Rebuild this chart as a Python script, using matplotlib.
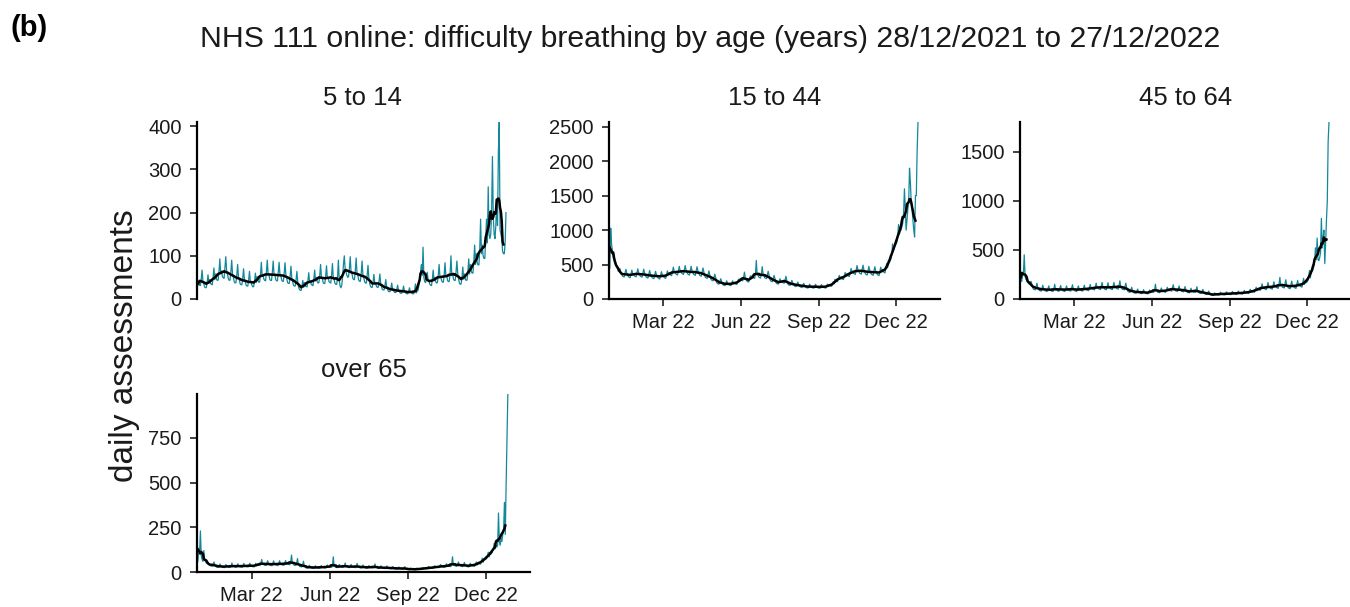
import matplotlib
matplotlib.use("Agg")
import matplotlib.pyplot as plt
import numpy as np
import pandas as pd

plt.rcParams['font.family'] = ['Liberation Sans', 'DejaVu Sans']

# daily assessments, one row per week starting Tue 28/12/2021, last value 27/12/2022
age_5_14 = [
    42, 34, 32, 31, 46, 67, 42,
    35, 28, 26, 27, 39, 56, 36,
    45, 36, 34, 33, 50, 72, 45,
    58, 46, 43, 44, 64, 93, 58,
    65, 52, 49, 48, 72, 98, 66,
    58, 47, 43, 44, 64, 90, 57,
    50, 40, 37, 38, 55, 80, 50,
    44, 35, 33, 33, 48, 70, 45,
    40, 32, 30, 30, 44, 64, 40,
    38, 31, 28, 29, 42, 60, 38,
    52, 42, 39, 39, 57, 85, 52,
    57, 46, 43, 42, 63, 90, 58,
    57, 45, 43, 43, 62, 88, 57,
    56, 45, 42, 42, 62, 85, 56,
    55, 44, 41, 41, 60, 84, 55,
    48, 38, 36, 36, 53, 76, 48,
    40, 32, 30, 30, 44, 64, 40,
    27, 22, 20, 20, 30, 43, 27,
    38, 30, 29, 28, 42, 61, 38,
    42, 34, 32, 31, 46, 67, 42,
    50, 40, 37, 38, 55, 80, 50,
    48, 38, 36, 36, 53, 77, 48,
    50, 40, 38, 37, 55, 82, 48,
    45, 36, 34, 34, 50, 90, 45,
    30, 26, 32, 50, 80, 100, 70,
    63, 55, 50, 52, 70, 98, 62,
    60, 48, 45, 45, 66, 95, 60,
    55, 44, 41, 41, 60, 88, 55,
    50, 40, 37, 37, 55, 78, 50,
    36, 29, 27, 27, 40, 57, 36,
    36, 29, 27, 27, 40, 58, 36,
    28, 22, 21, 21, 31, 45, 28,
    23, 18, 17, 17, 25, 37, 23,
    20, 16, 15, 15, 22, 32, 20,
    18, 14, 13, 14, 20, 30, 18,
    16, 13, 12, 12, 18, 26, 16,
    16, 13, 12, 12, 18, 35, 14,
    18, 20, 30, 45, 60, 80, 55,
    120, 50, 40, 38, 48, 62, 44,
    42, 34, 32, 31, 46, 67, 42,
    50, 40, 37, 38, 55, 80, 50,
    52, 42, 39, 39, 57, 84, 52,
    54, 43, 40, 41, 60, 100, 54,
    57, 46, 43, 43, 63, 88, 58,
    46, 37, 34, 35, 50, 74, 46,
    58, 46, 43, 44, 64, 93, 58,
    80, 64, 60, 60, 88, 125, 80,
    105, 84, 79, 79, 115, 185, 105,
    125, 100, 94, 94, 138, 185, 130,
    260, 150, 140, 150, 200, 330, 190,
    150, 140, 170, 230, 170, 340, 410,
    160, 150, 140, 110, 105, 105, 130,
    200,
]

age_15_44 = [
    450, 1030, 800, 700, 600, 560, 520,
    520, 480, 440, 400, 420, 440, 380,
    360, 330, 325, 320, 380, 430, 375,
    350, 322, 315, 308, 368, 420, 368,
    365, 336, 328, 321, 383, 438, 383,
    360, 331, 324, 317, 378, 432, 378,
    345, 317, 310, 304, 362, 414, 362,
    335, 308, 301, 295, 352, 402, 352,
    330, 304, 297, 290, 347, 396, 346,
    340, 313, 306, 299, 357, 408, 357,
    385, 354, 346, 339, 404, 462, 404,
    395, 363, 355, 348, 415, 474, 415,
    405, 373, 364, 356, 425, 486, 425,
    395, 363, 355, 348, 415, 474, 415,
    390, 359, 351, 343, 410, 468, 410,
    375, 345, 337, 330, 394, 450, 394,
    340, 313, 306, 299, 357, 408, 357,
    300, 276, 270, 264, 315, 360, 315,
    245, 225, 220, 216, 257, 294, 257,
    220, 202, 198, 194, 231, 264, 231,
    220, 202, 198, 194, 231, 264, 231,
    240, 221, 216, 211, 252, 288, 252,
    300, 276, 270, 264, 315, 390, 300,
    280, 258, 252, 246, 294, 336, 294,
    340, 313, 306, 299, 357, 560, 357,
    345, 317, 311, 304, 362, 470, 362,
    335, 308, 301, 295, 352, 402, 352,
    285, 262, 256, 251, 299, 342, 299,
    245, 225, 220, 216, 257, 294, 257,
    260, 239, 234, 229, 273, 330, 273,
    225, 207, 202, 198, 236, 270, 236,
    205, 189, 184, 180, 215, 246, 215,
    190, 175, 171, 167, 200, 228, 200,
    180, 166, 162, 158, 189, 216, 189,
    178, 164, 160, 157, 187, 214, 187,
    175, 161, 157, 154, 184, 210, 184,
    180, 166, 162, 158, 189, 216, 189,
    210, 193, 189, 185, 220, 252, 220,
    285, 262, 256, 251, 299, 342, 299,
    320, 294, 288, 282, 336, 384, 336,
    370, 340, 333, 326, 388, 444, 388,
    405, 373, 364, 356, 425, 486, 425,
    410, 377, 369, 361, 430, 492, 430,
    395, 363, 355, 348, 415, 474, 415,
    390, 359, 351, 343, 410, 468, 410,
    385, 354, 346, 339, 404, 462, 404,
    430, 396, 387, 378, 452, 516, 452,
    560, 540, 560, 580, 640, 800, 700,
    760, 780, 800, 820, 900, 1080, 940,
    1050, 1000, 1050, 1100, 1250, 1600, 1300,
    1000, 1150, 1300, 1400, 1900, 1700, 1400,
    1300, 1150, 1000, 900, 1500, 1500, 2150,
    2570,
]

age_45_64 = [
    200, 180, 240, 260, 450, 230, 200,
    190, 170, 160, 150, 165, 180, 150,
    115, 98, 98, 92, 127, 161, 115,
    100, 85, 85, 80, 110, 140, 100,
    95, 81, 81, 76, 105, 133, 95,
    95, 81, 81, 76, 105, 150, 95,
    98, 83, 83, 78, 108, 137, 98,
    95, 81, 81, 76, 105, 133, 95,
    100, 85, 85, 80, 110, 145, 100,
    95, 81, 81, 76, 105, 133, 95,
    100, 85, 85, 80, 110, 140, 100,
    105, 89, 89, 84, 116, 147, 105,
    115, 98, 98, 92, 127, 161, 115,
    120, 102, 102, 96, 132, 168, 120,
    118, 100, 100, 94, 130, 165, 118,
    120, 102, 102, 96, 132, 168, 120,
    125, 106, 106, 100, 138, 185, 125,
    115, 98, 98, 92, 127, 161, 115,
    85, 72, 72, 68, 94, 119, 85,
    72, 61, 61, 58, 79, 101, 72,
    68, 58, 58, 54, 75, 95, 68,
    65, 55, 55, 52, 72, 91, 65,
    85, 72, 72, 68, 94, 150, 85,
    80, 68, 68, 64, 88, 112, 80,
    85, 72, 72, 68, 94, 119, 85,
    100, 85, 85, 80, 110, 145, 100,
    95, 81, 81, 76, 105, 133, 95,
    90, 77, 77, 72, 99, 126, 90,
    78, 66, 66, 62, 86, 109, 78,
    82, 70, 70, 66, 90, 125, 82,
    70, 60, 60, 56, 77, 98, 70,
    58, 49, 49, 46, 64, 81, 58,
    45, 38, 38, 36, 50, 63, 45,
    50, 43, 43, 40, 55, 70, 50,
    52, 44, 44, 42, 57, 73, 52,
    55, 47, 47, 44, 61, 77, 55,
    58, 49, 49, 46, 64, 81, 58,
    62, 53, 53, 50, 68, 87, 62,
    70, 60, 60, 56, 77, 98, 70,
    85, 72, 72, 68, 94, 119, 85,
    110, 94, 94, 88, 121, 154, 110,
    120, 102, 102, 96, 132, 168, 120,
    125, 106, 106, 100, 138, 175, 125,
    135, 115, 115, 108, 149, 220, 135,
    140, 119, 119, 112, 154, 196, 140,
    130, 111, 111, 104, 143, 182, 130,
    135, 115, 115, 108, 149, 189, 135,
    150, 128, 128, 120, 165, 210, 150,
    180, 165, 175, 185, 230, 290, 215,
    290, 280, 300, 330, 380, 520, 400,
    620, 400, 390, 420, 470, 820, 520,
    620, 700, 360, 560, 800, 1000, 1600,
    1800,
]

age_65_plus = [
    60, 120, 100, 230, 90, 70, 60,
    120, 70, 60, 50, 50, 55, 45,
    40, 34, 34, 32, 44, 56, 40,
    32, 27, 27, 26, 35, 45, 32,
    30, 26, 26, 24, 33, 42, 30,
    32, 27, 27, 26, 35, 50, 32,
    33, 28, 28, 26, 36, 46, 33,
    33, 28, 28, 26, 36, 48, 33,
    35, 30, 30, 28, 39, 49, 35,
    35, 30, 30, 28, 39, 49, 35,
    45, 38, 38, 36, 50, 70, 45,
    45, 38, 38, 36, 50, 63, 45,
    44, 37, 37, 35, 48, 62, 44,
    45, 38, 38, 36, 50, 63, 45,
    46, 39, 39, 37, 51, 64, 46,
    50, 43, 43, 40, 55, 95, 50,
    45, 38, 38, 36, 50, 75, 45,
    35, 30, 30, 28, 39, 60, 35,
    27, 23, 23, 22, 30, 38, 27,
    25, 21, 21, 20, 28, 35, 25,
    26, 22, 22, 21, 29, 36, 26,
    28, 24, 24, 22, 31, 39, 28,
    32, 27, 27, 26, 35, 85, 32,
    30, 26, 26, 24, 33, 42, 30,
    32, 27, 27, 26, 35, 50, 32,
    30, 26, 26, 24, 33, 42, 30,
    30, 26, 26, 24, 33, 48, 30,
    28, 24, 24, 22, 31, 39, 28,
    26, 22, 22, 21, 29, 36, 26,
    28, 24, 24, 22, 31, 45, 28,
    25, 21, 21, 20, 28, 35, 25,
    24, 20, 20, 19, 26, 34, 24,
    22, 19, 19, 18, 24, 31, 22,
    20, 17, 17, 16, 22, 28, 20,
    20, 17, 17, 16, 22, 30, 20,
    16, 14, 14, 13, 18, 22, 16,
    15, 13, 13, 12, 17, 21, 15,
    18, 15, 15, 14, 20, 25, 18,
    22, 19, 19, 18, 24, 31, 22,
    25, 21, 21, 20, 28, 35, 25,
    30, 26, 26, 24, 33, 42, 30,
    33, 28, 28, 26, 36, 46, 33,
    38, 32, 32, 30, 42, 85, 38,
    40, 34, 34, 32, 44, 56, 40,
    38, 32, 32, 30, 42, 53, 38,
    35, 30, 30, 28, 39, 49, 35,
    40, 34, 34, 32, 44, 56, 40,
    55, 47, 47, 44, 61, 77, 55,
    75, 70, 72, 75, 90, 110, 85,
    110, 100, 105, 115, 135, 160, 130,
    150, 140, 150, 330, 170, 150, 190,
    170, 210, 230, 390, 210, 500, 750,
    996,
]

panel_titles = ["5 to 14", "15 to 44", "45 to 64", "over 65"]
series = [age_5_14, age_15_44, age_45_64, age_65_plus]
y_ticks = [[0, 100, 200, 300, 400],
           [0, 500, 1000, 1500, 2000, 2500],
           [0, 500, 1000, 1500],
           [0, 250, 500, 750]]
tick_dates = pd.to_datetime(["2022-03-01", "2022-06-01", "2022-09-01", "2022-12-01"])
tick_labels = ["Mar 22", "Jun 22", "Sep 22", "Dec 22"]

dates = pd.date_range("2021-12-28", "2022-12-27", freq="D")

teal = "#13889b"
W, H = 1350, 607

# panel boxes in pixels: left, top, right, bottom
boxes = [(197, 122, 528, 299), (609, 122, 940, 299),
         (1020, 122, 1351, 299), (197, 394, 530, 572)]

fig = plt.figure(figsize=(W / 100, H / 100), dpi=100)

for i, (vals, title, yt, (l, t, r, b)) in enumerate(zip(series, panel_titles, y_ticks, boxes)):
    ax = fig.add_axes([l / W, 1 - b / H, (r - l) / W, (b - t) / H])
    vals = np.array(vals, dtype=float)
    ax.plot(dates, vals, color=teal, lw=0.9)
    # 7 day centred mean, last 3 days left out
    sm = pd.Series(vals[:-3]).rolling(7, center=True, min_periods=4).mean()
    ax.plot(dates[:-3], sm, color="black", lw=1.8)

    ax.set_xlim(pd.Timestamp("2021-12-27"), pd.Timestamp("2023-01-22"))
    ax.set_ylim(0, vals.max())
    ax.set_yticks(yt)
    ax.set_yticklabels([str(v) for v in yt])
    for s in ["top", "right"]:
        ax.spines[s].set_visible(False)
    for s in ["left", "bottom"]:
        ax.spines[s].set_linewidth(1.6)
        ax.spines[s].set_color("black")
    ax.tick_params(axis="both", length=5, width=1.3, color="#333333",
                   labelsize=14.5, labelcolor="#1a1a1a")
    ax.tick_params(axis="y", pad=6)
    ax.tick_params(axis="x", pad=5)
    if i == 0:
        ax.spines["bottom"].set_visible(False)
        ax.set_xticks([])
    else:
        ax.set_xticks(tick_dates)
        ax.set_xticklabels(tick_labels)
    ax.text(0.5, 1 + 24 / (b - t), title, transform=ax.transAxes,
            ha="center", va="center", fontsize=18.5, color="#1a1a1a")

fig.text(710 / W, 1 - 39 / H,
         "NHS 111 online: difficulty breathing by age (years) 28/12/2021 to 27/12/2022",
         ha="center", va="center", fontsize=21.8, color="#1a1a1a")
fig.text(10 / W, 1 - 28 / H, "(b)", ha="left", va="center", fontsize=21,
         fontweight="bold")
fig.text(125 / W, 1 - 346 / H, "daily assessments", rotation=90,
         ha="center", va="center", fontsize=24, color="#1a1a1a")

fig.savefig("out.png", dpi=100)
